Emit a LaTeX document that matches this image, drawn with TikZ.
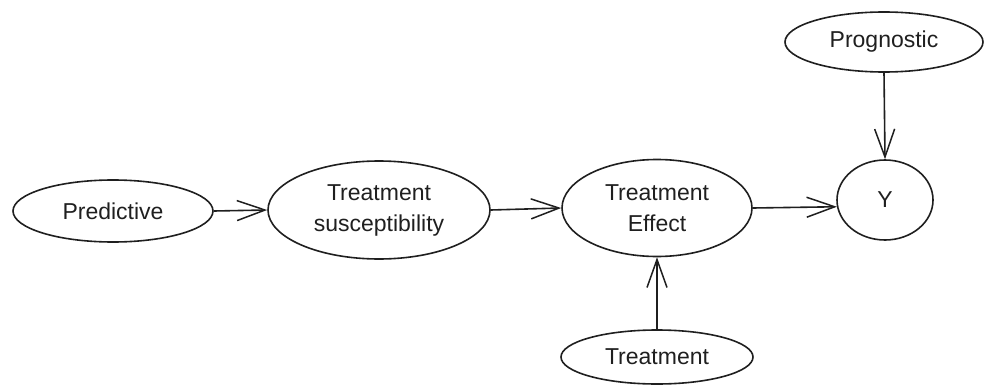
\documentclass[tikz,border=0pt]{standalone}
\usepackage{fontspec}
\setmainfont{Liberation Sans}
\usetikzlibrary{shapes.geometric,arrows.meta}
\begin{document}
\begin{tikzpicture}[x=1pt,y=-1pt,
  oval/.style={ellipse,draw=black!88,line width=1.6pt,inner sep=0pt,align=center,
    font=\fontsize{23}{31}\selectfont,text=black!88},
  link/.style={draw=black!88,line width=1.6pt,-{Straight Barb[length=28pt,width=20pt,line width=1.5pt]}}]
\useasboundingbox (0,0) rectangle (984,385);
\node[oval,minimum width=200pt,minimum height=62pt] (pred) at (113,211) {Predictive};
\node[oval,minimum width=222pt,minimum height=98pt] (ts) at (379,210) {Treatment\\susceptibility};
\node[oval,minimum width=190pt,minimum height=97pt] (te) at (657,208) {Treatment\\Effect};
\node[oval,minimum width=96pt,minimum height=80pt] (y) at (885,200) {Y};
\node[oval,minimum width=198pt,minimum height=60pt] (prog) at (884,42) {Prognostic};
\node[oval,minimum width=192pt,minimum height=54pt] (treat) at (657,357) {Treatment};
\draw[link] (pred.east) -- (ts.west);
\draw[link] (ts.east) -- (te.west);
\draw[link] (te.east) -- (y.188);
\draw[link] (treat.north) -- (te.south);
\draw[link] (prog.south) -- (y.north);
\end{tikzpicture}
\end{document}
